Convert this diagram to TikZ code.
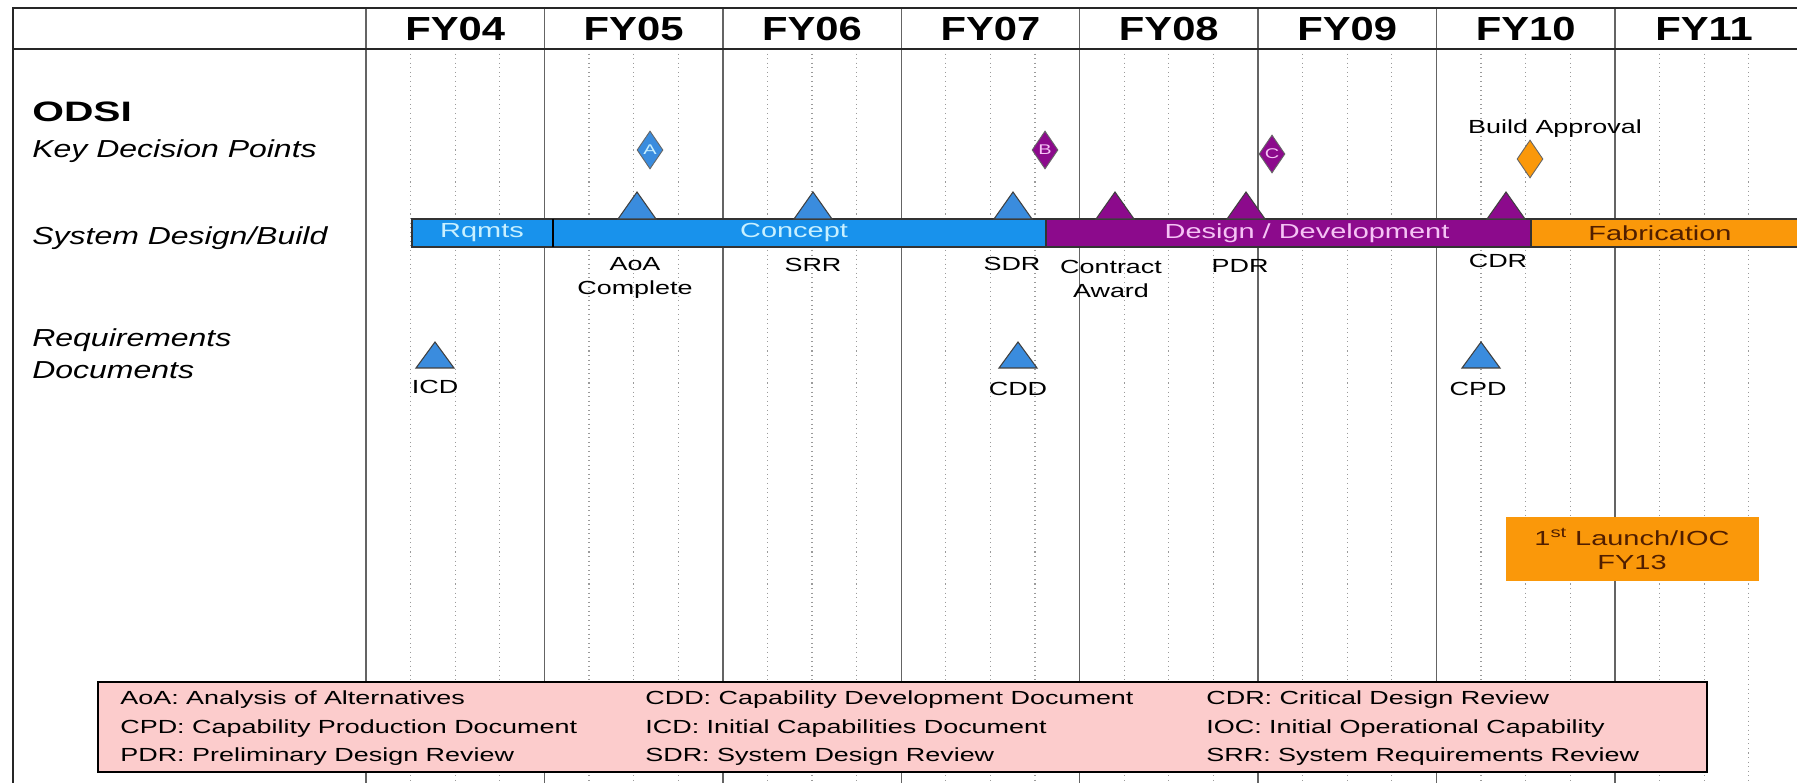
\documentclass[tikz,border=0pt]{standalone}
\usepackage{fontspec}
\setmainfont{Liberation Sans}
\newfontfamily\chartfont[FakeStretch=1.42]{Liberation Sans}
\newfontfamily\yearfont[FakeStretch=1.25]{Liberation Sans}
\newfontfamily\rowfont[FakeStretch=1.3]{Liberation Sans}
\newfontfamily\titlefont[FakeStretch=1.45]{Liberation Sans}
\usetikzlibrary{shapes.geometric}

\definecolor{barblue}{RGB}{24,146,236}
\definecolor{msblue}{RGB}{58,140,222}
\definecolor{dkpurple}{RGB}{140,10,140}
\definecolor{faborange}{RGB}{250,152,10}
\definecolor{legendpink}{RGB}{252,204,204}
\definecolor{gridgray}{RGB}{100,100,100}
\definecolor{dotgray}{RGB}{155,155,155}
\definecolor{paleblue}{RGB}{200,240,255}
\definecolor{palepink}{RGB}{245,195,245}
\definecolor{darkbrown}{RGB}{80,30,0}

\tikzset{
  frame/.style={draw=black!85, line width=1.5pt},
  yearline/.style={draw=gridgray, line width=0.8pt},
  quarterline/.style={draw=dotgray, line width=0.6pt, dotted},
  phase/.style={draw=black!80, line width=0.9pt},
  milestone/.style={draw=black!75, line width=0.6pt},
  kdp/.style={
    diamond,
    draw=black!60,
    line width=0.5pt,
    inner sep=0pt,
    minimum width=0.52cm,
    minimum height=0.76cm,
    font=\chartfont\fontsize{8}{8}\selectfont
  },
  yearlabel/.style={font=\yearfont\bfseries\fontsize{19}{19}\selectfont},
  rowlabel/.style={font=\rowfont\itshape\fontsize{14}{18}\selectfont, anchor=west, inner sep=0pt, align=left},
  smalllabel/.style={font=\chartfont\fontsize{10.8}{13.6}\selectfont, align=center, inner sep=0pt},
  barlabel/.style={font=\chartfont\fontsize{11.6}{12}\selectfont, inner sep=0pt},
  legendentry/.style={font=\chartfont\fontsize{10.8}{12}\selectfont, anchor=base west, inner sep=0pt}
}

\begin{document}
\begin{tikzpicture}[x=0.02cm, y=-0.02cm]
  \useasboundingbox[fill=white] (0,0) rectangle (1797,783);

  % quarter ticks and year dividers
  \foreach \i in {0,...,7} {
    \foreach \q in {0.25,0.5,0.75}
      \draw[quarterline] (366+178.4*\i+178.4*\q,49) -- (366+178.4*\i+178.4*\q,783);
  }
  \foreach \i in {1,...,7}
    \draw[yearline] (366+178.4*\i,8) -- (366+178.4*\i,783);
  \draw[yearline, line width=1.1pt] (366,8) -- (366,783);

  \foreach \yr [count=\i from 0] in {04,05,06,07,08,09,10,11}
    \node[yearlabel] (fy\yr) at (366+178.4*\i+89.2,29) {FY\yr};

  \draw[frame] (1797,8) -- (13,8) -- (13,783);
  \draw[frame] (13,49) -- (1797,49);

  % row titles
  \node[anchor=west, inner sep=0pt, font=\titlefont\bfseries\fontsize{16}{16}\selectfont] (odsi) at (32,112) {ODSI};
  \node[rowlabel] (kdprow) at (32,151) {Key Decision Points};
  \node[rowlabel] (buildrow) at (32,238) {System Design/Build};
  \node[rowlabel] (docrow) at (32,354) {Requirements\\Documents};

  % phases
  \draw[phase, fill=barblue] (412,219) rectangle (553,247);
  \draw[phase, fill=barblue] (553,219) rectangle (1046,247);
  \draw[phase, fill=dkpurple] (1046,219) rectangle (1531,247);
  \draw[phase, fill=faborange] (1531,219) rectangle (1805,247);
  \draw[line width=1.6pt] (553,219) -- (553,247);

  \node[barlabel, text=paleblue] (rqmts) at (482,233) {Rqmts};
  \node[barlabel, text=paleblue] (concept) at (794,233) {Concept};
  \node[barlabel, text=palepink] (design) at (1307,233) {Design / Development};
  \node[barlabel, text=darkbrown] (fab) at (1660,233) {Fabrication};

  % reviews on the build line
  \foreach \x/\c in {637/msblue, 813/msblue, 1013/msblue, 1115/dkpurple, 1246/dkpurple, 1506/dkpurple}
    \draw[milestone, fill=\c] (\x-19,219) -- (\x,192) -- (\x+19,219) -- cycle;

  \node[smalllabel] (aoa) at (635,278) {AoA\\Complete};
  \node[smalllabel] (srr) at (813,265) {SRR};
  \node[smalllabel] (sdr) at (1012,264) {SDR};
  \node[smalllabel] (award) at (1111,279) {Contract\\Award};
  \node[smalllabel] (pdr) at (1240,266) {PDR};
  \node[smalllabel] (cdr) at (1498,261) {CDR};

  % decision points
  \node[kdp, fill=msblue, text=paleblue] (kdpA) at (650,150) {A};
  \node[kdp, fill=dkpurple, text=palepink] (kdpB) at (1045,150) {B};
  \node[kdp, fill=dkpurple, text=palepink] (kdpC) at (1272,154) {C};
  \node[kdp, fill=faborange] (kdpbuild) at (1530,159) {};
  \node[smalllabel] (buildok) at (1555,129) {Build Approval};

  % requirements documents
  \foreach \x in {435,1018,1481}
    \draw[milestone, fill=msblue] (\x-19,368) -- (\x,342) -- (\x+19,368) -- cycle;
  \node[smalllabel] (icd) at (435,387) {ICD};
  \node[smalllabel] (cdd) at (1018,389) {CDD};
  \node[smalllabel] (cpd) at (1478,389) {CPD};

  \node[fill=faborange, minimum width=5.06cm, minimum height=1.28cm, align=center,
        text=darkbrown, font=\chartfont\fontsize{11.6}{13.6}\selectfont] (ioc) at (1632,549)
        {1\textsuperscript{st} Launch/IOC\\FY13};

  % acronym key
  \node[draw=black, line width=1.2pt, fill=legendpink, minimum width=32.18cm, minimum height=1.8cm] (key) at (902.5,727) {};
  \node[legendentry] (keyaoa) at (120,704) {AoA: Analysis of Alternatives};
  \node[legendentry] (keycpd) at (120,733) {CPD: Capability Production Document};
  \node[legendentry] (keypdr) at (120,761) {PDR: Preliminary Design Review};
  \node[legendentry] (keycdd) at (645,704) {CDD: Capability Development Document};
  \node[legendentry] (keyicd) at (645,733) {ICD: Initial Capabilities Document};
  \node[legendentry] (keysdr) at (645,761) {SDR: System Design Review};
  \node[legendentry] (keycdr) at (1206,704) {CDR: Critical Design Review};
  \node[legendentry] (keyioc) at (1206,733) {IOC: Initial Operational Capability};
  \node[legendentry] (keysrr) at (1206,761) {SRR: System Requirements Review};
\end{tikzpicture}
\end{document}
